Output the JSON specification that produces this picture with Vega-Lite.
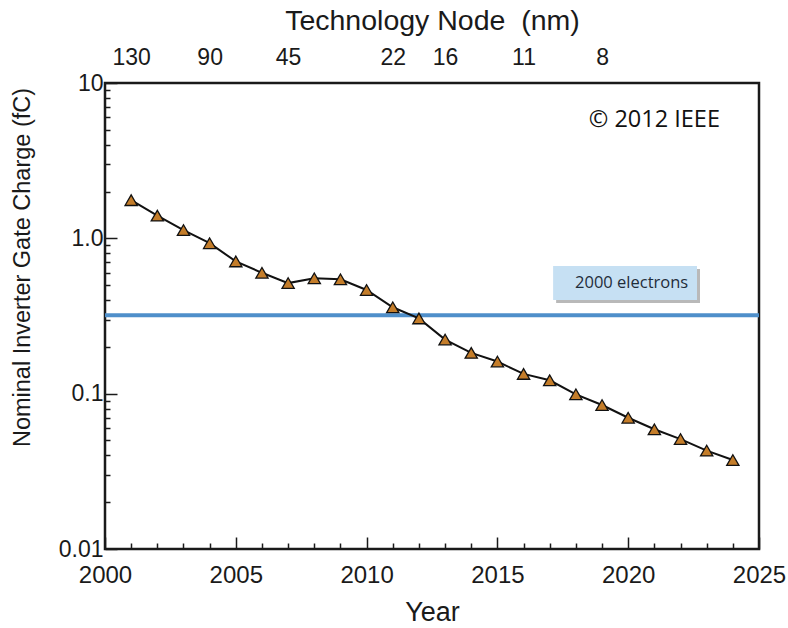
{
  "$schema": "https://vega.github.io/schema/vega-lite/v6.json",
  "width": 654,
  "height": 466,
  "autosize": {"type": "none"},
  "padding": {"left": 105, "top": 83, "right": 29, "bottom": 79},
  "background": "white",
  "config": {
    "view": {"stroke": "#1a1a1a", "strokeWidth": 2.5},
    "font": "Liberation Sans",
    "axis": {
      "labelFont": "Liberation Sans",
      "titleFont": "Liberation Sans",
      "labelColor": "#1a1a1a",
      "titleColor": "#1a1a1a",
      "titleFontWeight": "normal",
      "grid": false,
      "domain": false,
      "ticks": true,
      "tickColor": "#1a1a1a",
      "tickWidth": 1.5
    }
  },
  "datasets": {
    "charge": [
      {"year": 2001, "charge_fC": 1.76},
      {"year": 2002, "charge_fC": 1.40},
      {"year": 2003, "charge_fC": 1.13},
      {"year": 2004, "charge_fC": 0.93},
      {"year": 2005, "charge_fC": 0.71},
      {"year": 2006, "charge_fC": 0.60},
      {"year": 2007, "charge_fC": 0.515},
      {"year": 2008, "charge_fC": 0.553},
      {"year": 2009, "charge_fC": 0.545},
      {"year": 2010, "charge_fC": 0.465},
      {"year": 2011, "charge_fC": 0.36},
      {"year": 2012, "charge_fC": 0.305},
      {"year": 2013, "charge_fC": 0.223},
      {"year": 2014, "charge_fC": 0.183},
      {"year": 2015, "charge_fC": 0.161},
      {"year": 2016, "charge_fC": 0.134},
      {"year": 2017, "charge_fC": 0.122},
      {"year": 2018, "charge_fC": 0.099},
      {"year": 2019, "charge_fC": 0.0845},
      {"year": 2020, "charge_fC": 0.070},
      {"year": 2021, "charge_fC": 0.059},
      {"year": 2022, "charge_fC": 0.051},
      {"year": 2023, "charge_fC": 0.043},
      {"year": 2024, "charge_fC": 0.0374}
    ],
    "threshold": [
      {"label": "2000 electrons", "charge_fC": 0.32}
    ],
    "copyright": [
      {"note": "© 2012 IEEE"}
    ]
  },
  "resolve": {"axis": {"x": "independent", "y": "independent"}},
  "layer": [
    {
      "data": {"name": "threshold"},
      "mark": {"type": "rule", "color": "#4f8fca", "strokeWidth": 4},
      "encoding": {
        "y": {"field": "charge_fC", "type": "quantitative", "scale": {"type": "log", "domain": [0.01, 10], "nice": false}, "axis": null}
      }
    },
    {
      "data": {"name": "charge"},
      "mark": {"type": "line", "color": "#111111", "strokeWidth": 2},
      "encoding": {
        "x": {
          "field": "year", "type": "quantitative",
          "scale": {"domain": [2000, 2025], "nice": false, "zero": false},
          "axis": {
            "orient": "bottom",
            "title": "Year",
            "values": [2000, 2005, 2010, 2015, 2020, 2025],
            "format": "d",
            "ticks": true,
            "tickColor": "#1a1a1a",
            "tickSize": 12,
            "offset": -12,
            "labelPadding": 14,
            "labelFontSize": 24,
            "labelFlush": false,
            "titleFontSize": 27,
            "titlePadding": 12
          }
        },
        "y": {
          "field": "charge_fC", "type": "quantitative",
          "scale": {"type": "log", "domain": [0.01, 10], "nice": false},
          "axis": {
            "orient": "left",
            "title": "Nominal Inverter Gate Charge (fC)",
            "values": [0.01, 0.1, 1, 10],
            "labelExpr": "datum.value == 10 ? '10' : datum.value == 1 ? '1.0' : datum.value == 0.1 ? '0.1' : '0.01'",
            "ticks": true,
            "tickColor": "#1a1a1a",
            "tickSize": 12,
            "offset": -12,
            "labelPadding": 2,
            "labelFontSize": 23,
            "labelFlush": false,
            "titleFontSize": 23.5,
            "titleAngle": -90,
            "titleAlign": "center",
            "titleBaseline": "middle",
            "titleX": -95,
            "titleY": 184
          }
        }
      }
    },
    {
      "data": {"name": "charge"},
      "mark": {"type": "point", "shape": "triangle-up", "filled": true, "fill": "#c47d2a", "stroke": "#111111", "strokeWidth": 1.3, "size": 150, "opacity": 1},
      "encoding": {
        "x": {
          "field": "year", "type": "quantitative",
          "scale": {"domain": [2000, 2025], "nice": false, "zero": false},
          "axis": {
            "orient": "top",
            "title": "Technology Node\u00a0\u00a0(nm)",
            "values": [2001, 2004, 2007, 2011, 2013, 2016, 2019],
            "labelExpr": "datum.value == 2001 ? '130' : datum.value == 2004 ? '90' : datum.value == 2007 ? '45' : datum.value == 2011 ? '22' : datum.value == 2013 ? '16' : datum.value == 2016 ? '11' : '8'",
            "ticks": false,
            "labelPadding": 14,
            "labelFontSize": 23,
            "labelFlush": false,
            "titleFontSize": 28.5,
            "titlePadding": 11
          }
        },
        "y": {"field": "charge_fC", "type": "quantitative", "scale": {"type": "log", "domain": [0.01, 10], "nice": false}, "axis": null}
      }
    },
    {
      "data": {"name": "threshold"},
      "mark": {"type": "rect", "fill": "#7f7f7f", "opacity": 0.55, "xOffset": 3, "x2Offset": 3, "yOffset": 3, "y2Offset": 3},
      "encoding": {
        "x": {
          "datum": 2017.13, "type": "quantitative",
          "scale": {"domain": [2000, 2025], "nice": false, "zero": false},
          "axis": {
            "orient": "bottom",
            "title": null,
            "labels": false,
            "ticks": true,
            "tickColor": "#1a1a1a",
            "tickSize": 6,
            "offset": -6,
            "values": [2001,2002,2003,2004,2006,2007,2008,2009,2011,2012,2013,2014,2016,2017,2018,2019,2021,2022,2023,2024]
          }
        },
        "x2": {"datum": 2022.63},
        "y": {
          "datum": 0.664, "type": "quantitative",
          "scale": {"type": "log", "domain": [0.01, 10], "nice": false},
          "axis": {
            "orient": "left",
            "title": null,
            "labels": false,
            "ticks": true,
            "tickColor": "#1a1a1a",
            "tickSize": 5,
            "offset": -5,
            "values": [0.02,0.03,0.04,0.05,0.06,0.07,0.08,0.09,0.2,0.3,0.4,0.5,0.6,0.7,0.8,0.9,2,3,4,5,6,7,8,9]
          }
        },
        "y2": {"datum": 0.401}
      }
    },
    {
      "data": {"name": "threshold"},
      "mark": {"type": "rect", "fill": "#c6e0f3"},
      "encoding": {
        "x": {"datum": 2017.13, "type": "quantitative", "scale": {"domain": [2000, 2025], "nice": false, "zero": false}, "axis": null},
        "x2": {"datum": 2022.63},
        "y": {"datum": 0.664, "type": "quantitative", "scale": {"type": "log", "domain": [0.01, 10], "nice": false}, "axis": null},
        "y2": {"datum": 0.401}
      }
    },
    {
      "data": {"name": "threshold"},
      "mark": {"type": "text", "font": "Open Sans", "fontSize": 16.5, "color": "#1f2d3a", "align": "center", "baseline": "middle"},
      "encoding": {
        "x": {"datum": 2020.13, "type": "quantitative", "scale": {"domain": [2000, 2025], "nice": false, "zero": false}, "axis": null},
        "y": {"datum": 0.516, "type": "quantitative", "scale": {"type": "log", "domain": [0.01, 10], "nice": false}, "axis": null},
        "text": {"field": "label"}
      }
    },
    {
      "data": {"name": "copyright"},
      "mark": {"type": "text", "font": "Open Sans", "fontSize": 23.5, "color": "#111111", "align": "center", "baseline": "middle"},
      "encoding": {
        "x": {"datum": 2021.0, "type": "quantitative", "scale": {"domain": [2000, 2025], "nice": false, "zero": false}, "axis": null},
        "y": {"datum": 5.8, "type": "quantitative", "scale": {"type": "log", "domain": [0.01, 10], "nice": false}, "axis": null},
        "text": {"field": "note"}
      }
    }
  ]
}
